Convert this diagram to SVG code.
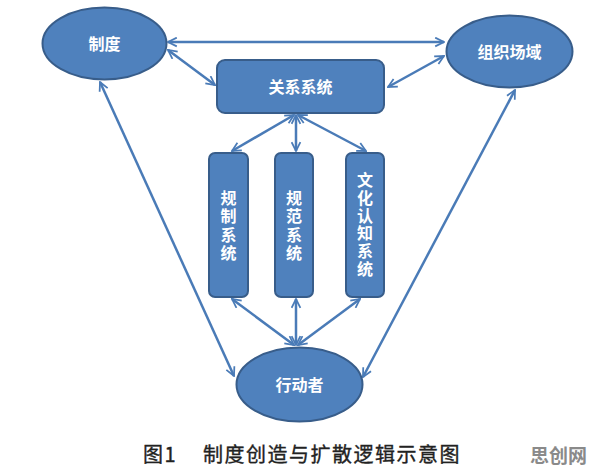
<svg xmlns="http://www.w3.org/2000/svg" width="596" height="475" viewBox="0 0 596 475">
<style>
.node{fill:#4f81bd;stroke:#385d8a;stroke-width:2}
.lbl{fill:#ffffff;font-family:"Noto Sans CJK SC","Noto Sans",sans-serif;font-size:16px;font-weight:bold;text-anchor:middle;dominant-baseline:central}
.vl{fill:#ffffff;font-family:"Noto Sans CJK SC","Noto Sans",sans-serif;font-size:16px;font-weight:bold;text-anchor:middle}
.conn{stroke:#4a7bb7;stroke-width:2.5;fill:none;marker-start:url(#ah);marker-end:url(#ah)}
.cap{fill:#222222;stroke:#222222;stroke-width:0.35;font-family:"Noto Sans CJK SC","Noto Sans",sans-serif;font-size:20px;letter-spacing:1.5px}
</style>
<defs>
<marker id="ah" viewBox="0 0 10 10" refX="9" refY="5" markerWidth="4.4" markerHeight="4.4" orient="auto-start-reverse" markerUnits="strokeWidth">
<path d="M1,1 L9,5 L1,9" fill="none" stroke="#4a7bb7" stroke-width="1.6" stroke-linejoin="miter"/>
</marker>
</defs>
<rect width="596" height="475" fill="#ffffff"/>
<g id="connectors">
<line class="conn" x1="168" y1="42" x2="444" y2="42"/>
<line class="conn" x1="168" y1="50" x2="215" y2="85"/>
<line class="conn" x1="388" y1="87" x2="444" y2="56"/>
<line class="conn" x1="294" y1="115" x2="232" y2="151"/>
<line class="conn" x1="296" y1="115" x2="296" y2="151"/>
<line class="conn" x1="298" y1="115" x2="366" y2="151"/>
<line class="conn" x1="294" y1="345" x2="232" y2="299"/>
<line class="conn" x1="296" y1="345" x2="296" y2="299"/>
<line class="conn" x1="298" y1="345" x2="360" y2="299"/>
<line class="conn" x1="100" y1="82" x2="234" y2="376"/>
<line class="conn" x1="515" y1="90" x2="363" y2="377"/>
</g>
<g id="zhidu">
<ellipse class="node" cx="104.5" cy="43.5" rx="62" ry="36"/>
<text class="lbl" x="104.5" y="43">制度</text>
</g>
<g id="zuzhichangyu">
<ellipse class="node" cx="509.5" cy="51.5" rx="63" ry="36"/>
<text class="lbl" x="509.5" y="51">组织场域</text>
</g>
<g id="guanxixitong">
<rect class="node" x="217" y="60" width="167" height="53" rx="8"/>
<text class="lbl" x="300.5" y="86">关系系统</text>
</g>
<g id="guizhixitong">
<rect class="node" x="209" y="153" width="39" height="144" rx="6"/>
<text class="vl" x="228.5" y="204"><tspan x="228.5">规</tspan><tspan x="228.5" dy="18.3">制</tspan><tspan x="228.5" dy="18.3">系</tspan><tspan x="228.5" dy="18.3">统</tspan></text>
</g>
<g id="guifanxitong">
<rect class="node" x="275" y="153" width="38" height="144" rx="6"/>
<text class="vl" x="294" y="204"><tspan x="294">规</tspan><tspan x="294" dy="18.3">范</tspan><tspan x="294" dy="18.3">系</tspan><tspan x="294" dy="18.3">统</tspan></text>
</g>
<g id="wenhuarenzhixitong">
<rect class="node" x="346" y="153" width="38" height="144" rx="6"/>
<text class="vl" x="365" y="186"><tspan x="365">文</tspan><tspan x="365" dy="17.8">化</tspan><tspan x="365" dy="17.8">认</tspan><tspan x="365" dy="17.8">知</tspan><tspan x="365" dy="17.8">系</tspan><tspan x="365" dy="17.8">统</tspan></text>
</g>
<g id="xingdongzhe">
<ellipse class="node" cx="299.5" cy="384.5" rx="63" ry="37"/>
<text class="lbl" x="299.5" y="384">行动者</text>
</g>
<g id="caption">
<text class="cap" x="143" y="462">图1</text>
<text class="cap" x="203" y="462">制度创造与扩散逻辑示意图</text>
<text x="530" y="463" fill="#8a8a8a" font-family="'Noto Sans CJK SC','Noto Sans',sans-serif" font-size="19" font-weight="bold">思创网</text>
</g>
</svg>
